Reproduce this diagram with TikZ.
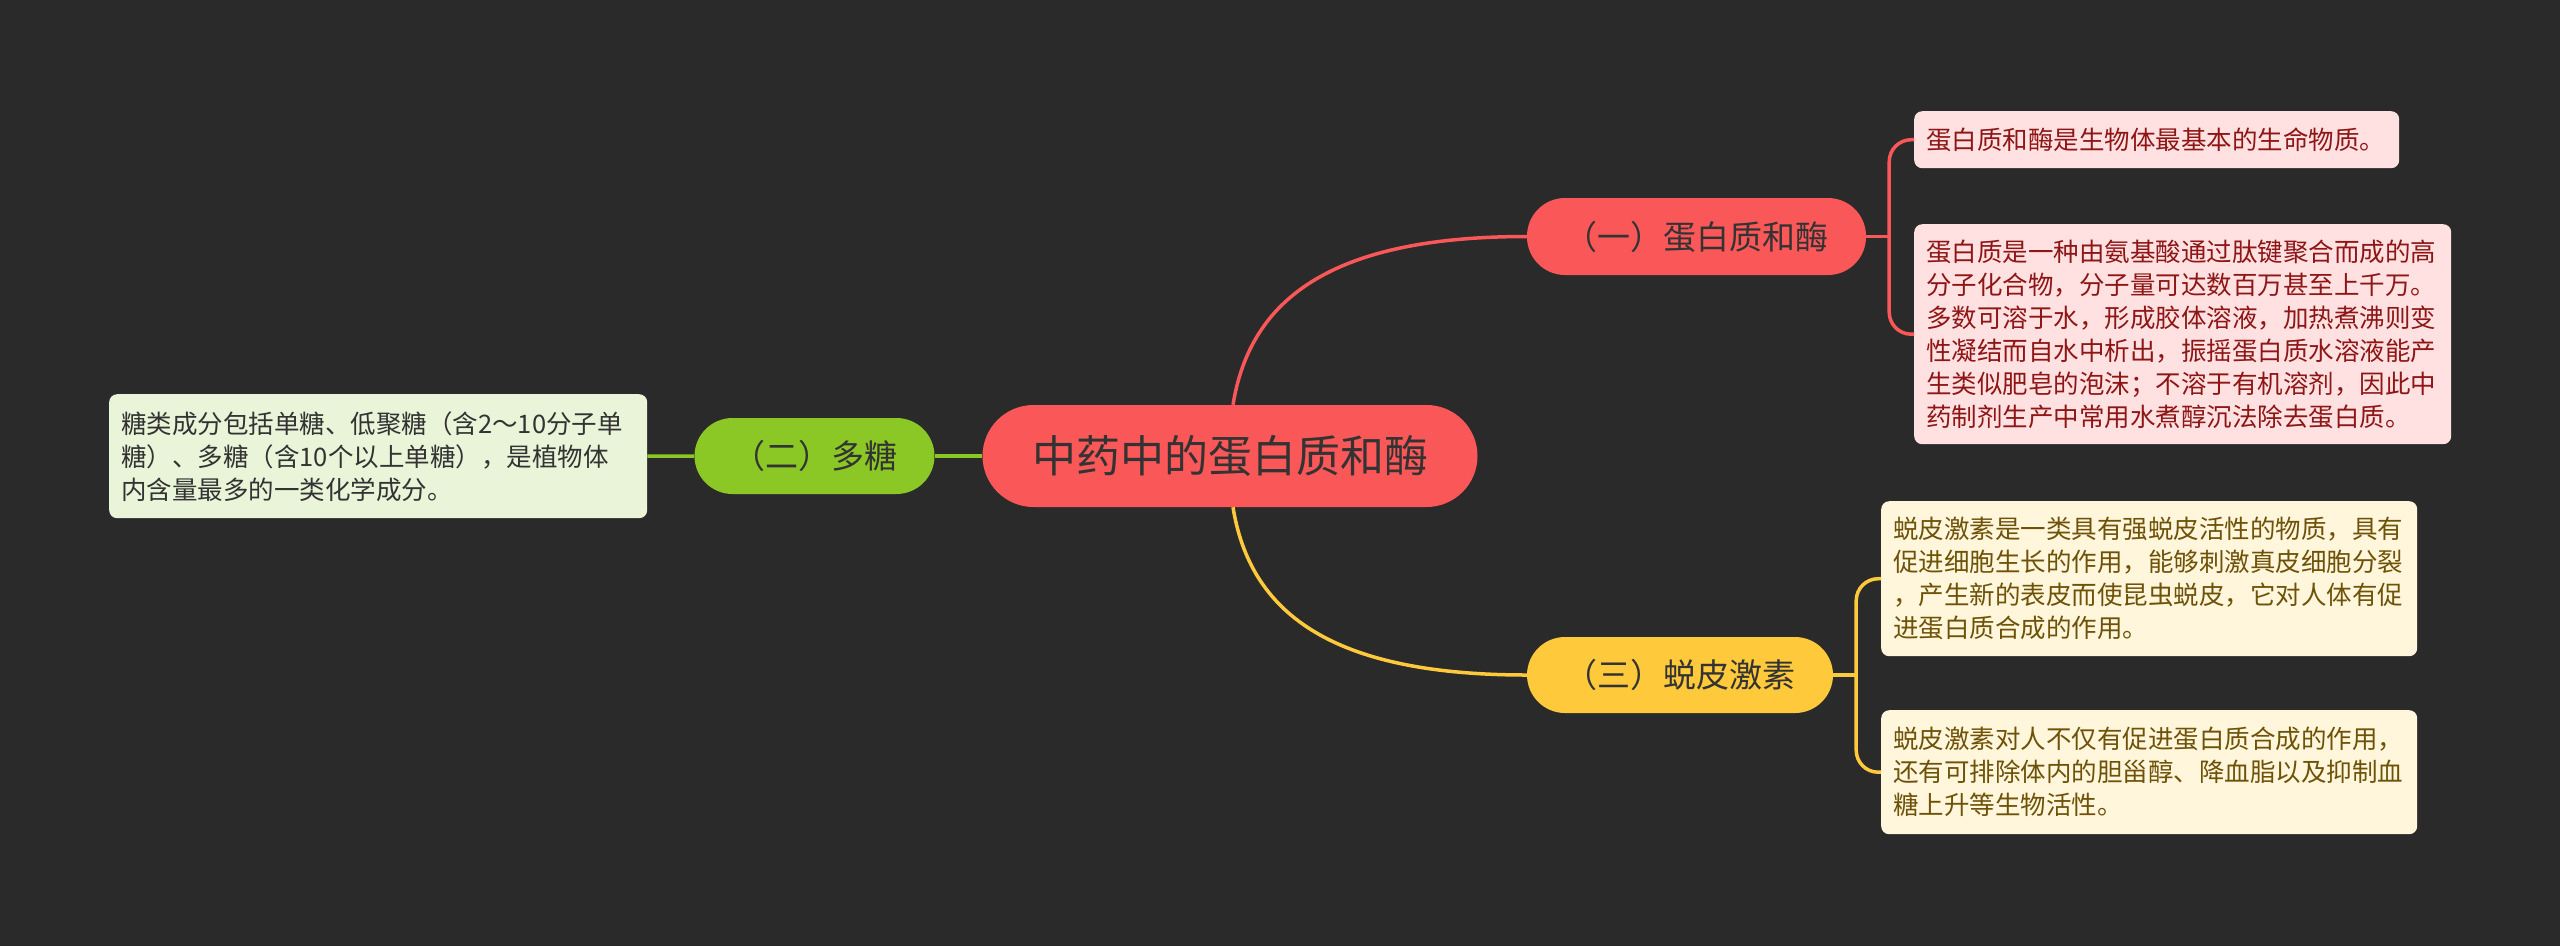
\documentclass[tikz,border=0pt]{standalone}
\usepackage{fontspec}
\setmainfont{Noto Sans CJK SC}
\usetikzlibrary{calc}
\definecolor{bg}{HTML}{2A2A2A}
\definecolor{cred}{HTML}{FA5759}
\definecolor{cyel}{HTML}{FFC93C}
\definecolor{cgrn}{HTML}{8CC825}
\definecolor{lred}{HTML}{FFE1E1}
\definecolor{lyel}{HTML}{FFF6DC}
\definecolor{lgrn}{HTML}{E9F4D8}
\definecolor{tred}{HTML}{8E1616}
\definecolor{tyel}{HTML}{6E5208}
\definecolor{tdark}{HTML}{333333}
\tikzset{
  rootbox/.style={fill=cred, text=tdark, rounded corners=51pt, minimum width=495pt, minimum height=102pt, inner sep=0pt, font=\fontsize{44}{50}\selectfont},
  branchbox/.style={rounded corners=38pt, text=tdark, inner sep=0pt, font=\fontsize{33}{40}\selectfont},
  leafbox/.style={anchor=north west, rounded corners=8pt, align=left, inner xsep=12pt, inner ysep=0pt, font=\fontsize{25.5}{33}\selectfont},
  conn/.style={line width=3.5pt},
}
\begin{document}
\begin{tikzpicture}[x=1pt,y=-1pt]
\useasboundingbox (0,0) rectangle (2560,946);
\fill[bg] (0,0) rectangle (2560,946);

\node[rootbox] (root) at (1230,456) {中药中的蛋白质和酶};
\node[branchbox, fill=cred, minimum width=339pt, minimum height=77pt] (b1) at (1696.5,236.5) {（一）蛋白质和酶};
\node[branchbox, fill=cyel, minimum width=306pt, minimum height=76pt] (b3) at (1680,675) {（三）蜕皮激素};
\node[branchbox, fill=cgrn, minimum width=240pt, minimum height=76pt] (b2) at (814.5,456) {（二）多糖};

\node[leafbox, fill=lred, text=tred, text width=461pt, minimum height=57pt] (l1) at (1914,111) {蛋白质和酶是生物体最基本的生命物质。};
\node[leafbox, fill=lred, text=tred, text width=513pt, minimum height=220pt] (l2) at (1914,224) {蛋白质是一种由氨基酸通过肽键聚合而成的高\\分子化合物，分子量可达数百万甚至上千万。\\多数可溶于水，形成胶体溶液，加热煮沸则变\\性凝结而自水中析出，振摇蛋白质水溶液能产\\生类似肥皂的泡沫；不溶于有机溶剂，因此中\\药制剂生产中常用水煮醇沉法除去蛋白质。};
\node[leafbox, fill=lyel, text=tyel, text width=512pt, minimum height=155pt] (l3) at (1881,501) {蜕皮激素是一类具有强蜕皮活性的物质，具有\\促进细胞生长的作用，能够刺激真皮细胞分裂\\，产生新的表皮而使昆虫蜕皮，它对人体有促\\进蛋白质合成的作用。};
\node[leafbox, fill=lyel, text=tyel, text width=512pt, minimum height=124pt] (l4) at (1881,710) {蜕皮激素对人不仅有促进蛋白质合成的作用，\\还有可排除体内的胆甾醇、降血脂以及抑制血\\糖上升等生物活性。};
\node[leafbox, fill=lgrn, text=tdark, text width=514pt, minimum height=124pt] (l5) at (109,394) {糖类成分包括单糖、低聚糖（含2～10分子单\\糖）、多糖（含10个以上单糖），是植物体\\内含量最多的一类化学成分。};

\draw[conn, cred] ($(root.north)+(3,0)$) .. controls +(17,-105) and ($(b1.west)+(-197,0)$) .. (b1.west);
\draw[conn, cyel] ($(root.south)+(3,0)$) .. controls +(17,105) and ($(b3.west)+(-197,0)$) .. (b3.west);
\draw[conn, cgrn] (root.west) -- (b2.east);
\draw[conn, cgrn] (b2.west) -- (l5.east);

\draw[conn, cred] (b1.east) -- ++(23,0) coordinate (rj);
\draw[conn, cred, rounded corners=22pt] (l1.west) -| (rj) |- (l2.west);
\draw[conn, cyel] (b3.east) -- ++(23,0) coordinate (yj);
\draw[conn, cyel, rounded corners=22pt] (l3.west) -| (yj) |- (l4.west);
\end{tikzpicture}
\end{document}
